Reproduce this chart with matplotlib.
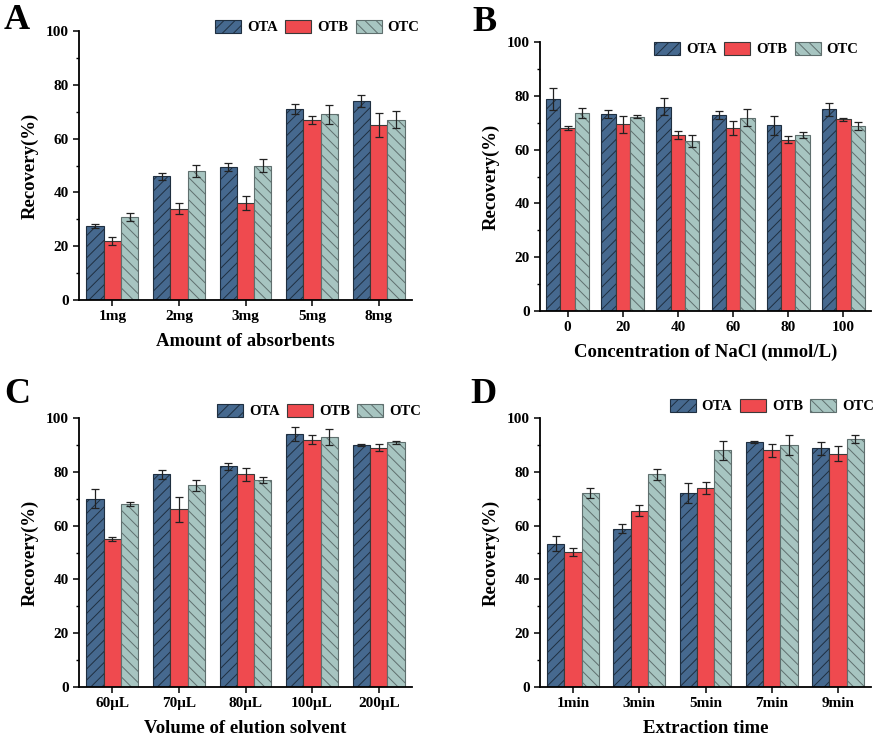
import numpy as np
import matplotlib
matplotlib.use('Agg')
import matplotlib.pyplot as plt

plt.rcParams['font.family'] = ['Liberation Serif', 'DejaVu Serif']
plt.rcParams['font.weight'] = 'bold'
plt.rcParams['hatch.linewidth'] = 0.7

series = ['OTA', 'OTB', 'OTC']

# panel A: amount of absorbent
cats_a = ['1mg', '2mg', '3mg', '5mg', '8mg']
ota_a = [27.5, 46, 49.5, 71, 74]
otb_a = [22, 34, 36, 67, 65]
otc_a = [31, 48, 50, 69, 67]
ota_a_err = [0.8, 1.3, 1.5, 1.8, 2.2]
otb_a_err = [1.5, 2.2, 2.5, 1.5, 4.5]
otc_a_err = [1.5, 2.3, 2.5, 3.5, 3.2]

# panel B: NaCl concentration
cats_b = ['0', '20', '40', '60', '80', '100']
ota_b = [78.7, 73.4, 76.0, 72.7, 69.1, 75.0]
otb_b = [68.0, 69.4, 65.3, 68.0, 63.7, 71.2]
otc_b = [73.6, 72.2, 63.2, 71.9, 65.5, 68.8]
ota_b_err = [4.1, 1.5, 3.0, 1.5, 3.5, 2.5]
otb_b_err = [0.8, 3.2, 1.5, 2.5, 1.2, 0.4]
otc_b_err = [1.8, 0.5, 2.3, 3.3, 1.2, 1.5]

# panel C: elution solvent volume
cats_c = ['60\u03bcL', '70\u03bcL', '80\u03bcL', '100\u03bcL', '200\u03bcL']
ota_c = [70, 79, 82, 94, 90]
otb_c = [55, 66, 79, 92, 89]
otc_c = [68, 75, 77, 93, 91]
ota_c_err = [3.5, 1.8, 1.2, 2.5, 0.3]
otb_c_err = [0.9, 4.5, 2.5, 1.5, 1.2]
otc_c_err = [0.8, 2.0, 1.2, 3.0, 0.6]

# panel D: extraction time
cats_d = ['1min', '3min', '5min', '7min', '9min']
ota_d = [53.3, 58.9, 72.1, 91.1, 88.7]
otb_d = [50.2, 65.6, 74.1, 88.0, 86.7]
otc_d = [72.1, 79.0, 88.0, 90.0, 92.2]
ota_d_err = [2.7, 1.8, 3.6, 0.4, 2.5]
otb_d_err = [1.5, 2.0, 2.2, 2.5, 2.8]
otc_d_err = [1.8, 2.0, 3.5, 3.6, 1.6]

fc = ['#46698f', '#ef4a4f', '#a7c5c1']
ec = ['#1f2f40', '#3a3a3a', '#5f6f6e']
hatches = ['///', '', '\\\\\\']

W, H = 886, 737
fig = plt.figure(figsize=(W/100, H/100), dpi=100)

def px_axes(l, t, r, b):
    return fig.add_axes([l/W, (H-b)/H, (r-l)/W, (b-t)/H])

def draw(ax, cats, vals, errs, xlabel, leg_anchor, letter, letter_xy):
    n = len(cats)
    x = np.arange(n)
    w = 0.26
    handles = []
    for i in range(3):
        h = ax.bar(x + (i-1)*w, vals[i], w, yerr=errs[i], color=fc[i], edgecolor=ec[i],
                   hatch=hatches[i], linewidth=0.8,
                   error_kw=dict(ecolor='#222222', elinewidth=0.9, capsize=3, capthick=0.9))
        handles.append(h)
    ax.set_xlim(-0.5, n-0.5)
    ax.set_ylim(0, 100)
    ax.set_yticks([0, 20, 40, 60, 80, 100])
    ax.set_yticks([10, 30, 50, 70, 90], minor=True)
    ax.set_xticks(x)
    ax.set_xticklabels(cats)
    ax.spines['top'].set_visible(False)
    ax.spines['right'].set_visible(False)
    ax.spines['left'].set_linewidth(1.3)
    ax.spines['bottom'].set_linewidth(1.3)
    ax.tick_params(axis='both', which='major', labelsize=11, width=1.1, length=4)
    ax.tick_params(axis='y', which='minor', width=1.0, length=2.5)
    ax.set_ylabel('Recovery(%)', fontsize=13.5, fontweight='bold', labelpad=5)
    ax.set_xlabel(xlabel, fontsize=13.5, fontweight='bold', labelpad=7)
    ax.legend(handles, series, loc='center right', bbox_to_anchor=leg_anchor, ncol=3,
              frameon=False, fontsize=10.5, handlelength=1.8, handleheight=1.0,
              handletextpad=0.4, columnspacing=0.5, borderaxespad=0)
    fig.text(letter_xy[0]/W, 1-letter_xy[1]/H, letter, fontsize=26, fontweight='bold',
             ha='left', va='top')

axA = px_axes(79, 31, 412, 300)
draw(axA, cats_a, [ota_a, otb_a, otc_a], [ota_a_err, otb_a_err, otc_a_err],
     'Amount of absorbents', (1.04, 1.015), 'A', (4, 4))

axB = px_axes(540, 42, 871, 311)
draw(axB, cats_b, [ota_b, otb_b, otc_b], [ota_b_err, otb_b_err, otc_b_err],
     'Concentration of NaCl (mmol/L)', (0.98, 0.974), 'B', (472, 6))

axC = px_axes(79, 418, 412, 687)
draw(axC, cats_c, [ota_c, otb_c, otc_c], [ota_c_err, otb_c_err, otc_c_err],
     'Volume of elution solvent', (1.045, 1.026), 'C', (4, 378))

axD = px_axes(540, 418, 871, 687)
draw(axD, cats_d, [ota_d, otb_d, otc_d], [ota_d_err, otb_d_err, otc_d_err],
     'Extraction time', (1.027, 1.045), 'D', (470, 378))

fig.savefig('out.png', dpi=100)
